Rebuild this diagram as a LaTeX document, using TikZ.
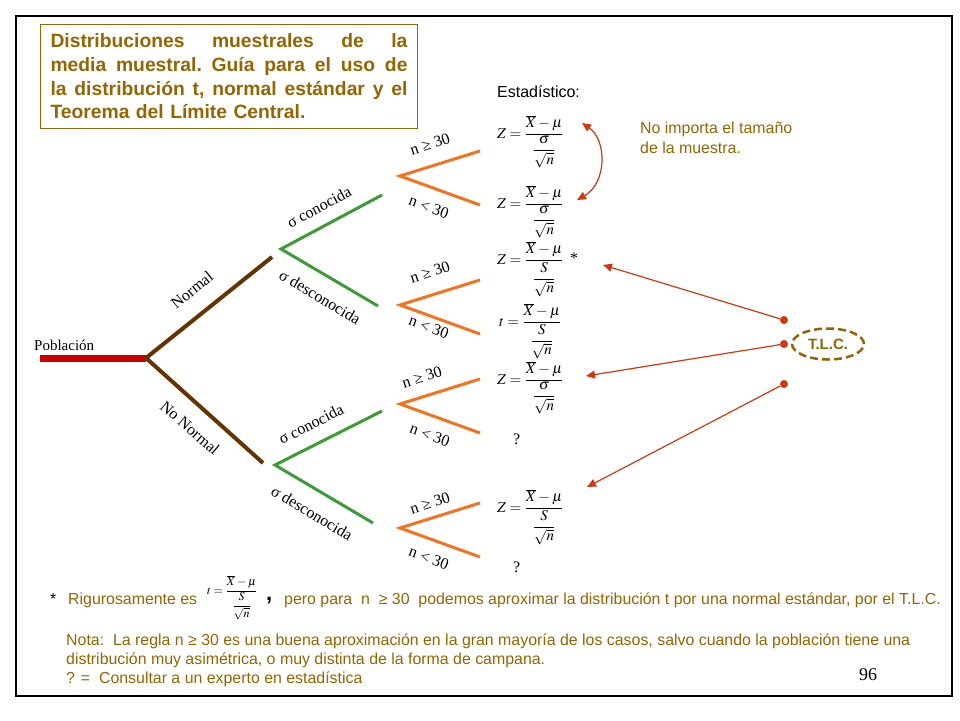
\documentclass[tikz,border=0pt]{standalone}
\usepackage{amsmath}
\usepackage{mathptmx}
\usepackage{fontspec}
\setmainfont{Liberation Serif}
\setsansfont{Liberation Sans}
\usetikzlibrary{arrows.meta,shapes.geometric}
\definecolor{txtolive}{RGB}{150,100,0}
\definecolor{arrred}{RGB}{210,55,15}
\definecolor{orgc}{RGB}{245,115,30}
\definecolor{grnc}{RGB}{60,155,55}
\definecolor{brnc}{RGB}{102,51,0}
\definecolor{barred}{RGB}{204,0,0}
\newcommand{\myZ}[2]{$#1=\dfrac{\overline{X}-\mu}{\dfrac{#2}{\sqrt{n}}}$}
\newcommand{\jline}[1]{\makebox[357pt][l]{#1}}
\begin{document}
\begin{tikzpicture}[x=1pt,y=-1pt,
  lbl/.style={font=\fontsize{16}{18}\selectfont, inner sep=0pt},
  sftxt/.style={font=\sffamily\fontsize{15.9}{19.5}\selectfont, text=txtolive, inner sep=0pt, anchor=base west, align=left},
  brn/.style={line width=4pt, draw=brnc},
  grn/.style={line width=3pt, draw=grnc},
  org/.style={line width=3pt, draw=orgc},
  redarr/.style={draw=arrred, line width=1.2pt, -{Triangle[length=9pt,width=8pt]}},
  dotnode/.style={circle, fill=arrred, inner sep=0pt, minimum size=8pt},
  fml/.style={inner sep=0pt, anchor=base west, font=\fontsize{15}{17}\selectfont},
]
\useasboundingbox (0,0) rectangle (960,720);
\draw[line width=1.5pt] (16,16) rectangle (952,696);

% title
\node[draw=txtolive, line width=1pt, anchor=north west, minimum width=377pt, minimum height=104pt,
  text width=357pt, inner sep=0pt, align=left, text=txtolive,
  font=\sffamily\bfseries\fontsize{19.3}{23.6}\selectfont] (title) at (40,24)
  {\jline{Distribuciones\hfill muestrales\hfill de\hfill la}\\
   \jline{media\hfill muestral.\hfill Guía\hfill para\hfill el\hfill uso\hfill de}\\
   \jline{la\hfill distribución\hfill t,\hfill normal\hfill estándar\hfill y\hfill el}\\
   Teorema del Límite Central.};

\node[font=\sffamily\fontsize{16}{18}\selectfont, inner sep=0pt, anchor=base west] (est) at (497,97) {Estadístico:};

% formulas
\node[fml] (f1) at (497,138) {\myZ{Z}{\sigma}};
\node[fml] (f2) at (497,208) {\myZ{Z}{\sigma}};
\node[fml] (f3) at (497,264) {\myZ{Z}{S}};
\node[fml] (f4) at (499,326) {\myZ{t}{S}};
\node[fml] (f5) at (497,384) {\myZ{Z}{\sigma}};
\node[fml] (f6) at (497,512) {\myZ{Z}{S}};
\node[lbl, anchor=base west] (q1) at (513,444) {?};
\node[lbl, anchor=base west] (q2) at (513,572) {?};
\node[lbl, anchor=base west] (ast) at (570,263) {*};

% tree
\coordinate (pop) at (40,358);
\coordinate (root) at (146,358);
\coordinate (nA) at (272,257);
\coordinate (nB) at (263,463);
\coordinate (gA) at (281,249);
\coordinate (gA1) at (382,195);
\coordinate (gA2) at (378,306);
\coordinate (gB) at (275,465);
\coordinate (gB1) at (382,411);
\coordinate (gB2) at (373,523);
\draw[line width=7pt, draw=barred] (pop) -- (root);
\draw[brn] (nA) -- (root) -- (nB);
\draw[grn] (gA1) -- (gA) -- (gA2);
\draw[grn] (gB1) -- (gB) -- (gB2);
\foreach \i/\y in {1/176,2/305,3/404,4/528}{
  \coordinate (o\i) at (400,\y);
  \coordinate (o\i a) at (480,\y-25);
  \coordinate (o\i b) at (480,\y+29);
  \draw[org] (o\i a) -- (o\i) -- (o\i b);
}

\node[lbl, anchor=base west, font=\fontsize{15}{18}\selectfont] (pobl) at (34,350) {Población};
\node[lbl, rotate=39] (lnorm) at (192,290) {Normal};
\node[lbl, rotate=-41] (lnonorm) at (190,428) {No Normal};
\node[lbl, rotate=28] (lsc1) at (319,207) {σ conocida};
\node[lbl, rotate=-31] (lsd1) at (320,297) {σ desconocida};
\node[lbl, rotate=27] (lsc2) at (311,424) {σ conocida};
\node[lbl, rotate=-31] (lsd2) at (312,513) {σ desconocida};
\node[lbl, rotate=18] (ge1) at (430,144) {n ≥ 30};
\node[lbl, rotate=-20] (lt1) at (429,207) {n < 30};
\node[lbl, rotate=18] (ge2) at (430,272) {n ≥ 30};
\node[lbl, rotate=-20] (lt2) at (429,327) {n < 30};
\node[lbl, rotate=18] (ge3) at (422,377) {n ≥ 30};
\node[lbl, rotate=-20] (lt3) at (430,435) {n < 30};
\node[lbl, rotate=18] (ge4) at (430,503) {n ≥ 30};
\node[lbl, rotate=-20] (lt4) at (429,558) {n < 30};

% right side
\coordinate (ca1) at (582,123);
\coordinate (ca2) at (577,200);
\draw[draw=arrred, line width=1.2pt, {Triangle[length=9pt,width=8pt]}-{Triangle[length=9pt,width=8pt]}]
  (ca1) .. controls (607,140) and (607,183) .. (ca2);
\node[sftxt] (noimp) at (640,153) {No importa el tamaño\\de la muestra.};

\node[dotnode] (d1) at (784,320) {};
\node[dotnode] (d2) at (784,344) {};
\node[dotnode] (d3) at (784,384) {};
\coordinate (t1) at (603,265);
\coordinate (t2) at (586,376);
\coordinate (t3) at (587,487);
\draw[redarr] (d1) -- (t1);
\draw[redarr] (d2) -- (t2);
\draw[redarr] (d3) -- (t3);
\node[draw=txtolive, line width=2.5pt, dash pattern=on 8pt off 4pt, ellipse, minimum width=72pt, minimum height=31pt,
  inner sep=0pt, text=txtolive, font=\sffamily\bfseries\fontsize{15}{18}\selectfont] (tlc) at (828,344) {T.L.C.};

% bottom
\node[lbl, anchor=base west, font=\sffamily\fontsize{16}{18}\selectfont] (bast) at (50,604) {*};
\node[sftxt] (rig) at (68,604) {Rigurosamente es};
\node[inner sep=0pt, anchor=base west, font=\fontsize{12}{14}\selectfont] (ft) at (207,594) {\myZ{t}{S}};
\node[inner sep=0pt, anchor=base west, font=\sffamily\bfseries\fontsize{22}{24}\selectfont] (comma) at (266,600) {,};
\node[sftxt] (pero) at (284,604) {pero para\ \ n\ \ ≥ 30\ \ podemos aproximar la distribución t por una normal estándar, por el T.L.C.};
\node[sftxt] (nota1) at (66,645) {Nota:\ \ La regla n ≥ 30 es una buena aproximación en la gran mayoría de los casos, salvo cuando la población tiene una};
\node[sftxt] (nota2) at (66,664) {distribución muy asimétrica, o muy distinta de la forma de campana.};
\node[sftxt] (nota3) at (66,683) {? =\ \ Consultar a un experto en estadística};
\node[lbl, anchor=base west, font=\fontsize{18}{20}\selectfont] (pg) at (859,680) {96};
\end{tikzpicture}
\end{document}
